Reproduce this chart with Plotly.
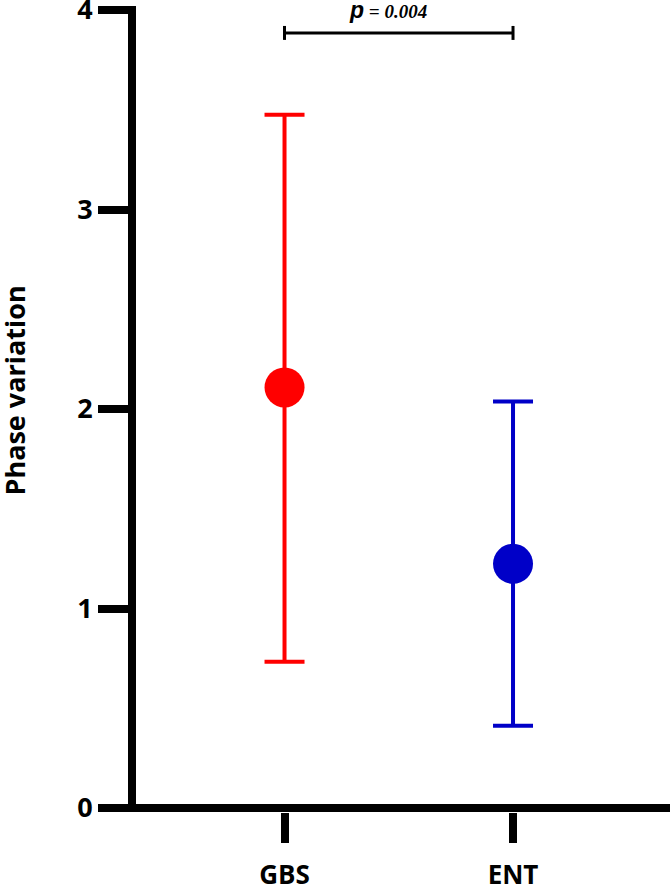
import plotly.graph_objects as go

groups = ["GBS", "ENT"]
means = [2.108, 1.224]
upper = [3.475, 2.037]
lower = [0.733, 0.412]
colors = ["#ff0000", "#0000c8"]
y_ticks = [0, 1, 2, 3, 4]
p_text = "0.004"

x_pos = list(range(len(groups)))

fig = go.Figure()
for i, g in enumerate(groups):
    fig.add_trace(go.Scatter(
        x=[x_pos[i]], y=[means[i]], mode="markers",
        marker=dict(size=40, color=colors[i]),
        error_y=dict(type="data", symmetric=False,
                     array=[upper[i] - means[i]],
                     arrayminus=[means[i] - lower[i]],
                     color=colors[i], thickness=4, width=20),
        showlegend=False, name=g))

# significance bracket
br_y = 3.885
br_tick = 0.035
line_style = dict(color="black", width=3)
fig.add_shape(type="line", x0=x_pos[0], x1=x_pos[1], y0=br_y, y1=br_y, line=line_style)
fig.add_shape(type="line", x0=x_pos[0], x1=x_pos[0], y0=br_y - br_tick, y1=br_y + br_tick, line=line_style)
fig.add_shape(type="line", x0=x_pos[1], x1=x_pos[1], y0=br_y - br_tick, y1=br_y + br_tick, line=line_style)
fig.add_annotation(
    x=0.453, y=4.0, xref="x", yref="y", showarrow=False,
    text=("<span style='font-family:Liberation Sans;font-size:23px'><b><i>p</i></b></span>"
          "<span style='font-family:Liberation Serif;font-size:19px'><b><i> = " + p_text + "</i></b></span>"),
    font=dict(family="Liberation Serif", size=19, color="black"),
    xanchor="center", yanchor="middle")

# y title
fig.add_annotation(
    x=-0.227, y=0.5226, xref="paper", yref="paper", showarrow=False,
    text="<b>Phase variation</b>", textangle=-90,
    font=dict(family="Open Sans", size=27, color="black"),
    xanchor="center", yanchor="middle")

fig.update_layout(
    width=670, height=884,
    margin=dict(l=136, r=0, t=6, b=72),
    paper_bgcolor="white", plot_bgcolor="white",
    xaxis=dict(range=[-0.65, 1.687], tickvals=x_pos, ticktext=groups,
               showline=False,
               ticks="outside", ticklen=30, tickwidth=8, tickcolor="black",
               showgrid=False, zeroline=False, ticklabelstandoff=10,
               automargin=False, ticklabeloverflow="allow",
               tickfont=dict(family="Open Sans", size=26, color="black", weight="bold")),
    yaxis=dict(range=[-0.02, 4.02], tickvals=y_ticks,
               showline=True, linecolor="black", linewidth=8,
               ticks="outside", ticklen=30, tickwidth=8, tickcolor="black",
               showgrid=False, zeroline=True, zerolinecolor="black", zerolinewidth=8,
               automargin=False, ticklabeloverflow="allow",
               tickfont=dict(family="Open Sans", size=27, color="black", weight="bold")),
)

fig.write_html("out.html")
